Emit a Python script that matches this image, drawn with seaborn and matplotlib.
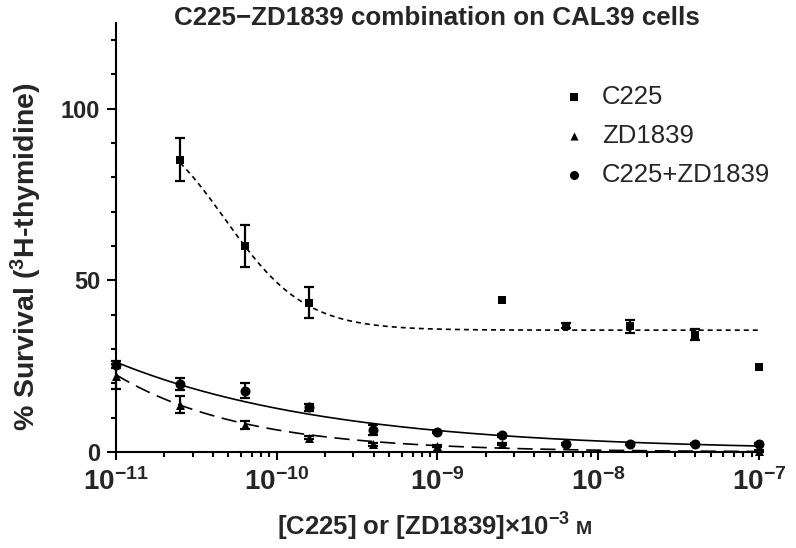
import numpy as np
import seaborn as sns
import matplotlib.pyplot as plt
from matplotlib import font_manager
from matplotlib.ticker import LogLocator, FixedLocator, MultipleLocator, FuncFormatter, NullFormatter

# doses (2.5-fold dilution steps)
doses = [1e-11, 2.51e-11, 6.31e-11, 1.58e-10, 3.98e-10, 1e-9,
         2.51e-9, 6.31e-9, 1.58e-8, 3.98e-8, 1e-7]

# C225 alone (squares)
c225_dose = [2.51e-11, 6.31e-11, 1.58e-10, 2.51e-9, 6.31e-9, 1.58e-8, 3.98e-8, 1e-7]
c225_surv = [85.2, 60.0, 43.5, 44.3, 36.8, 36.6, 34.2, 24.9]
c225_err = [6.3, 6.0, 4.6, 0.0, 0.8, 2.0, 1.6, 0.0]

# ZD1839 alone (triangles)
zd_dose = [1e-11, 2.51e-11, 6.31e-11, 1.58e-10, 3.98e-10, 1e-9, 2.51e-9, 1e-7]
zd_surv = [22.0, 13.8, 7.8, 4.2, 2.2, 1.8, 2.2, 0.4]
zd_err = [3.5, 2.4, 1.2, 0.5, 0.5, 0.3, 0.3, 0.3]

# C225 + ZD1839 (circles)
comb_surv = [25.4, 19.8, 17.8, 13.0, 6.4, 5.8, 4.9, 2.2, 2.2, 2.2, 2.2]
comb_err = [1.0, 1.8, 2.2, 1.1, 1.4, 0.4, 0.4, 0.3, 0.3, 0.3, 0.3]

# fitted curves as drawn on the figure (parameters)
c225_fit = {"top": 100.0, "bottom": 35.5, "log_ec50": -10.32, "hill": 1.75}
zd_fit = {"span": 22.5, "rate": 1.25, "plateau": 0.0}
comb_fit = {"span": 25.8, "rate": 0.74, "plateau": 0.4}

x_ticks = [1e-11, 1e-10, 1e-9, 1e-8, 1e-7]

names = {f.name for f in font_manager.fontManager.ttflist}
narrow = "Liberation Sans Narrow" if "Liberation Sans Narrow" in names else "Liberation Sans"

sns.set_theme(style="ticks")
plt.rcParams["font.family"] = ["Liberation Sans", "DejaVu Sans"]
plt.rcParams["lines.scale_dashes"] = False

fig, ax = plt.subplots(figsize=(7.96, 5.48), dpi=100)
fig.subplots_adjust(left=0.1457, right=0.9535, bottom=0.1752, top=0.958)


def logistic(x, p):
    return p["bottom"] + (p["top"] - p["bottom"]) / (1 + 10 ** (p["hill"] * (np.log10(x) - p["log_ec50"])))


def decay(x, p):
    return p["plateau"] + p["span"] * np.exp(-p["rate"] * (np.log10(x) + 11))


grid1 = np.logspace(np.log10(c225_dose[0]), -7, 300)
grid2 = np.logspace(-11, -7, 300)

sns.lineplot(x=grid1, y=logistic(grid1, c225_fit), ax=ax, color="black", lw=1.2,
             linestyle=(0, (3.6, 2.9)), estimator=None, sort=False)
sns.lineplot(x=grid2, y=decay(grid2, zd_fit), ax=ax, color="black", lw=1.2,
             linestyle=(0, (11, 5.5)), estimator=None, sort=False)
sns.lineplot(x=grid2, y=decay(grid2, comb_fit), ax=ax, color="black", lw=1.2,
             estimator=None, sort=False)

for xs, ys, es in [(c225_dose, c225_surv, c225_err), (zd_dose, zd_surv, zd_err),
                   (doses, comb_surv, comb_err)]:
    keep = [i for i, e in enumerate(es) if e > 0]
    ax.errorbar([xs[i] for i in keep], [ys[i] for i in keep], yerr=[es[i] for i in keep],
                fmt="none", ecolor="black", elinewidth=1.6, capsize=3.4, capthick=1.6,
                zorder=2, clip_on=False)

sns.scatterplot(x=c225_dose, y=c225_surv, ax=ax, marker="s", s=34, color="black",
                edgecolor="black", linewidth=0, label="C225", zorder=3, clip_on=False)
sns.scatterplot(x=zd_dose, y=zd_surv, ax=ax, marker="^", s=42, color="black",
                edgecolor="black", linewidth=0, label="ZD1839", zorder=3, clip_on=False)
sns.scatterplot(x=doses, y=comb_surv, ax=ax, marker="o", s=52, color="black",
                edgecolor="black", linewidth=0, label="C225+ZD1839", zorder=3, clip_on=False)

ax.set_xscale("log")
ax.set_xlim(1e-11, 1e-7)
ax.set_ylim(0, 125)
ax.xaxis.set_major_locator(FixedLocator(x_ticks))
ax.xaxis.set_minor_locator(LogLocator(base=10, subs=np.arange(2, 10)))
ax.xaxis.set_minor_formatter(NullFormatter())
ax.xaxis.set_major_formatter(FuncFormatter(lambda v, pos: r"$\mathdefault{10^{%d}}$" % round(np.log10(v))))
ax.yaxis.set_major_locator(FixedLocator([0, 50, 100]))
ax.yaxis.set_minor_locator(MultipleLocator(10))

sns.despine(ax=ax)
for s in ["left", "bottom"]:
    ax.spines[s].set_linewidth(1.5)
    ax.spines[s].set_color("black")
ax.tick_params(axis="both", which="both", direction="out", color="black", width=1.5)
ax.tick_params(axis="y", which="major", length=6.5, pad=5)
ax.tick_params(axis="y", which="minor", length=3.3)
ax.tick_params(axis="x", which="major", length=5.8, pad=6)
ax.tick_params(axis="x", which="minor", length=3.6)
for lab in ax.get_yticklabels():
    lab.set_fontsize(17)
    lab.set_fontweight("bold")
for lab in ax.get_xticklabels():
    lab.set_fontsize(20)
    lab.set_fontweight("bold")
    lab.set_family([narrow, "Liberation Sans"])
ax.set_xlabel("")
ax.set_ylabel("")

ax.legend(frameon=False, loc="upper left", bbox_to_anchor=(0.696, 0.855), borderpad=0,
          borderaxespad=0, handlelength=0.8, handletextpad=0.7, labelspacing=0.58,
          prop={"size": 18.5}, markerscale=0.9)

fig.text(0.549, 1 - 18 / 548, "C225\u2212ZD1839 combination on CAL39 cells",
         ha="center", va="center", fontsize=18.7, fontweight="bold")
fig.text(26 / 796, 1 - 257 / 548, r"% Survival ($\mathdefault{^{3}}$H-thymidine)",
         rotation=90, ha="center", va="center", fontsize=20.5, fontweight="bold")

xl = fig.text(277 / 796, 1 - 527 / 548, r"[C225] or [ZD1839]×10$\mathdefault{^{-3}}$",
              ha="left", va="center", fontsize=18.5, fontweight="bold", family=[narrow, "Liberation Sans"])
fig.canvas.draw()
bb = xl.get_window_extent()
fig.text((bb.x1 + 5) / 796, 1 - 530 / 548, "M", ha="left", va="center", fontsize=14,
         fontweight="bold", family=[narrow, "Liberation Sans"])

fig.savefig("out.png", dpi=100)
